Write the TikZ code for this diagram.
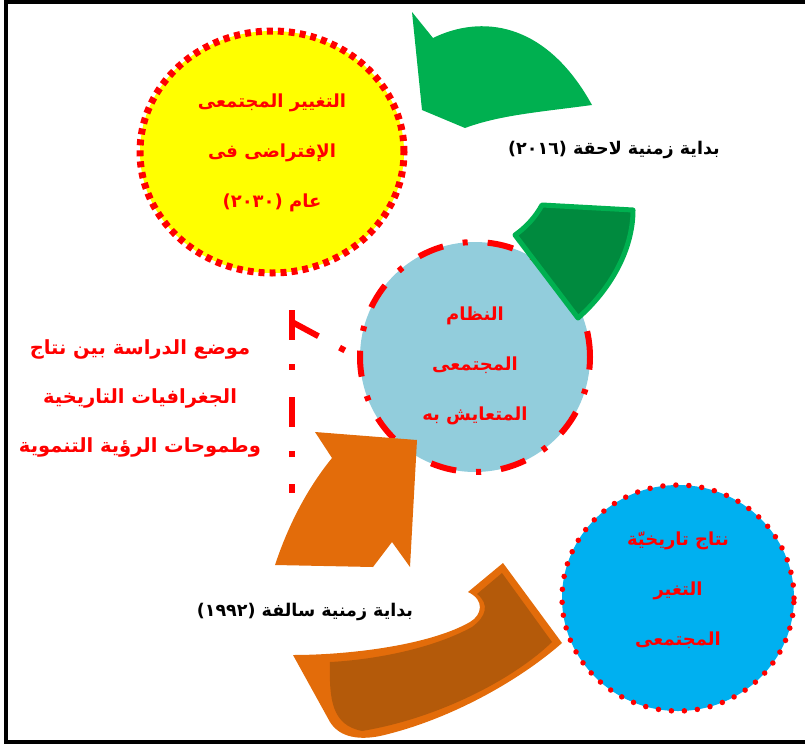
\documentclass[tikz,border=0pt]{standalone}
\usepackage{fontspec}
\usepackage{tikz}
\usetikzlibrary{shapes.geometric}

\newfontfamily\arabicfont[Script=Arabic]{DejaVu Sans}
\TeXXeTstate=1
\newcommand{\artxt}[1]{\beginR #1\endR}

\definecolor{futureyellow}{HTML}{FFFF00}
\definecolor{presentblue}{HTML}{92CDDC}
\definecolor{pastblue}{HTML}{00B0F0}
\definecolor{laterGreen}{HTML}{00B050}
\definecolor{darkGreen}{HTML}{008A3E}
\definecolor{earlyOrange}{HTML}{E36C0A}
\definecolor{darkOrange}{HTML}{B45A0A}

\begin{document}
\begin{tikzpicture}
  [
    x = 1pt, y = -1pt,
    circ/.style = {inner sep = 0pt},
    circtext/.style = {align = center, text = red,
                       font = \arabicfont\bfseries\fontsize{18}{50}\selectfont},
    future/.style = {circ, ellipse, fill = futureyellow, draw = red,
                     line width = 7pt, dash pattern = on 6pt off 5pt},
    present/.style = {circ, circle, fill = presentblue, draw = red, line width = 6pt,
                      dash pattern = on 26pt off 20pt on 5pt off 20pt},
    past/.style = {circ, ellipse, fill = pastblue, draw = red, line width = 5.5pt,
                   line cap = round, dash pattern = on 0pt off 13pt},
    conn/.style = {red, line width = 6pt, dash pattern = on 30pt off 24pt on 6pt off 27pt},
    sidetext/.style = {align = center, text = red,
                       font = \arabicfont\bfseries\fontsize{19.5}{49}\selectfont},
    datetext/.style = {text = black, font = \arabicfont\bfseries\fontsize{17.5}{20}\selectfont},
  ]

  \useasboundingbox (0,0) rectangle (805,744);
  \draw[line width = 4pt] (810,2) -- (6,2) -- (6,742) -- (810,742);

  \node[future, minimum width = 264, minimum height = 242] (future) at (272,152) {};
  \node[circtext] (futuretext) at ([yshift = -1pt]future.center)
    {\artxt{التغيير المجتمعى}\\\artxt{الإفتراضى فى}\\\artxt{عام (٢٠٣٠)}};

  % green arrow
  \fill[laterGreen] (412,12) -- (433,38) .. controls (480,15) and (545,20) .. (592,105)
    .. controls (540,112) and (500,115) .. (465,128) -- (422,110) -- cycle;

  \node[present, minimum size = 230] (present) at (475,357) {};
  \node[circtext] (presenttext) at ([yshift = -9pt]present.center)
    {\artxt{النظام}\\\artxt{المجتمعى}\\\artxt{المتعايش به}};

  \filldraw[fill = darkGreen, draw = laterGreen, line width = 5pt, line join = round]
    (542,205) -- (633,210) .. controls (633,250) and (610,290) .. (578,318)
    -- (515,235) .. controls (525,228) and (535,218) .. cycle;

  \coordinate (linetop) at (292,310);
  \coordinate (linecorner) at (292,322);
  \coordinate (linebottom) at (292,493);
  \draw[conn] (linetop) -- (linebottom);
  \draw[conn] (linecorner) -- (present.west);

  % orange arrows
  \fill[earlyOrange] (315,432) -- (417,440) -- (410,567) -- (392,542) -- (373,567)
    -- (275,565) .. controls (290,520) and (310,485) .. (332,458) -- cycle;
  \fill[earlyOrange] (293,655) -- (330,722) .. controls (340,738) and (360,740) .. (380,736)
    .. controls (450,720) and (520,680) .. (562,643) -- (503,563) -- (468,592)
    .. controls (485,600) and (482,615) .. (470,622)
    .. controls (430,645) and (350,655) .. cycle;
  \fill[darkOrange] (330,662) .. controls (329,700) and (332,725) .. (362,731)
    .. controls (440,718) and (515,678) .. (552,642) -- (502,573) -- (477,594)
    .. controls (490,604) and (486,617) .. (472,627)
    .. controls (430,650) and (370,660) .. cycle;

  \node[past, minimum width = 232, minimum height = 226] (past) at (678,598) {};
  \node[circtext] (pasttext) at ([yshift = 8pt]past.center)
    {\artxt{نتاج تاريخيّة}\\\artxt{التغير}\\\artxt{المجتمعى}};

  \node[sidetext] (study) at (140,398)
    {\artxt{موضع الدراسة بين نتاج}\\\artxt{الجغرافيات التاريخية}\\\artxt{وطموحات الرؤية التنموية}};
  \node[datetext] (later) at (614,150) {\artxt{بداية زمنية لاحقة (٢٠١٦)}};
  \node[datetext] (earlier) at (305,612) {\artxt{بداية زمنية سالفة (١٩٩٢)}};

\end{tikzpicture}
\end{document}
